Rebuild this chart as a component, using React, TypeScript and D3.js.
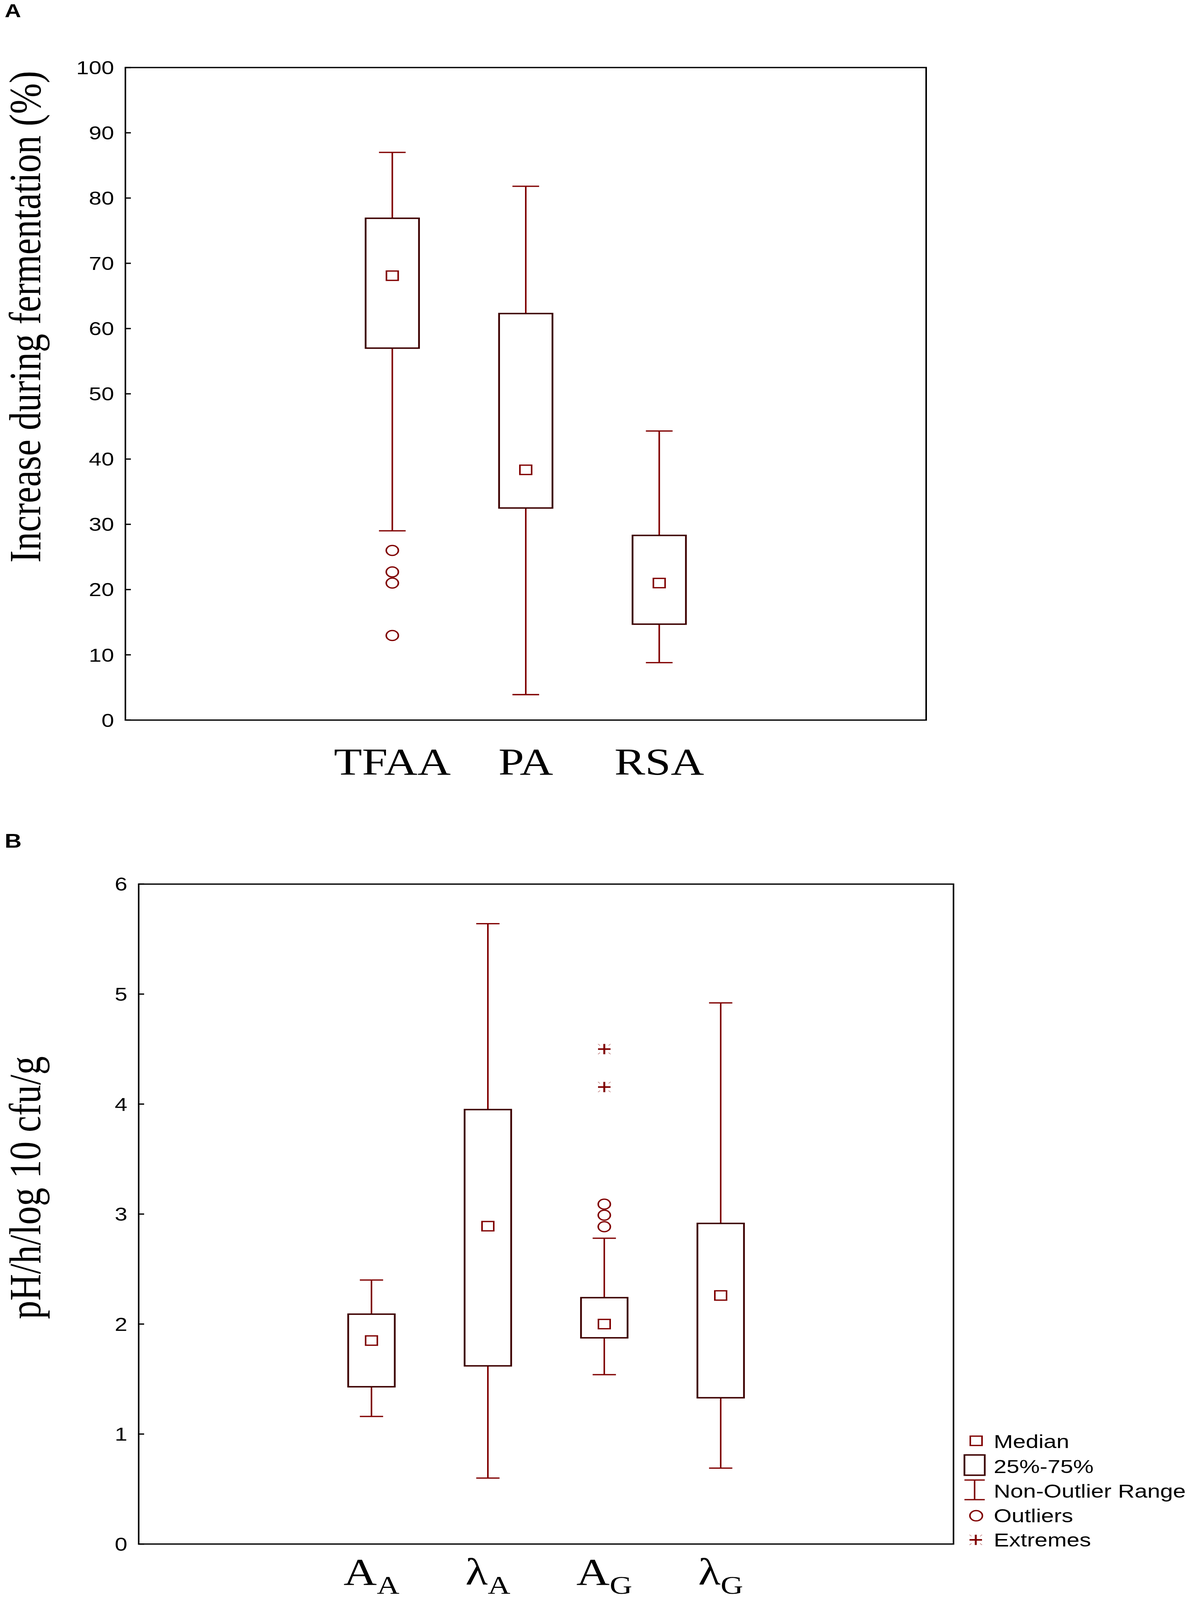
import * as d3 from "d3";

// Panel A: increase during fermentation (%)
const A_GROUPS = ["TFAA", "PA", "RSA"];
const A_WHISKER_HIGH = [87.0, 81.8, 44.3];
const A_Q3 = [76.9, 62.3, 28.3];
const A_MEDIAN = [68.1, 38.35, 21.0];
const A_Q1 = [57.0, 32.5, 14.7];
const A_WHISKER_LOW = [29.0, 3.9, 8.8];
const A_OUTLIERS = [[26.0, 22.7, 21.0, 12.96], [], []];
const A_EXTREMES: number[][] = [[], [], []];
const A_TICKS = [0, 10, 20, 30, 40, 50, 60, 70, 80, 90, 100];

// Panel B: kinetic parameters
const B_GROUPS = ["AA", "lA", "AG", "lG"];
const B_LABEL_BASE = ["A", "λ", "A", "λ"];
const B_LABEL_SUB = ["A", "A", "G", "G"];
const B_WHISKER_HIGH = [2.4, 5.64, 2.78, 4.92];
const B_Q3 = [2.09, 3.95, 2.24, 2.915];
const B_MEDIAN = [1.85, 2.89, 2.0, 2.26];
const B_Q1 = [1.43, 1.62, 1.875, 1.33];
const B_WHISKER_LOW = [1.16, 0.6, 1.54, 0.69];
const B_OUTLIERS = [[], [], [3.09, 2.99, 2.885], []];
const B_EXTREMES = [[], [], [4.5, 4.155], []];
const B_TICKS = [0, 1, 2, 3, 4, 5, 6];

const LEGEND_LABELS = ["Median", "25%-75%", "Non-Outlier Range", "Outliers", "Extremes"];

const RED = "#800000";
const DARK = "#3d0000";
const SANS = "'Liberation Sans', Arial, sans-serif";
const SERIF = "'Liberation Serif', 'Times New Roman', serif";

const W = 3049;
const H = 4975;

type Frame = { left: number; right: number; top: number; bottom: number };

function Plus({ x, y }: { x: number; y: number }) {
  const d = 16;
  return (
    <g>
      <line x1={x - d} x2={x + d} y1={y} y2={y} stroke={RED} strokeWidth={5} />
      <line x1={x} x2={x} y1={y - d} y2={y + d} stroke={RED} strokeWidth={5} />
      {[
        [-1, -1],
        [1, -1],
        [-1, 1],
        [1, 1],
      ].map(([sx, sy], i) => (
        <line
          key={i}
          x1={x + sx * 11}
          y1={y + sy * 11}
          x2={x + sx * 16}
          y2={y + sy * 16}
          stroke={RED}
          strokeWidth={1.2}
          opacity={0.7}
        />
      ))}
    </g>
  );
}

function MedianMark({ x, y }: { x: number; y: number }) {
  return <rect x={x - 15} y={y - 14.5} width={30} height={29} fill="white" stroke={RED} strokeWidth={4} />;
}

function BoxPanel(props: {
  frame: Frame;
  groups: string[];
  ticks: number[];
  high: number[];
  q3: number[];
  median: number[];
  q1: number[];
  low: number[];
  outliers: number[][];
  extremes: number[][];
}) {
  const { frame, groups, ticks } = props;
  const x = d3.scalePoint<string>().domain(groups).range([frame.left, frame.right]).padding(2);
  const y = d3
    .scaleLinear()
    .domain([ticks[0], ticks[ticks.length - 1]])
    .range([frame.bottom, frame.top]);
  const step = x.step();
  const boxHalf = step * 0.2;
  const capHalf = step * 0.1;

  return (
    <g>
      {ticks.map((t) => (
        <g key={t}>
          <line x1={frame.left} x2={frame.left + 14} y1={y(t)} y2={y(t)} stroke="black" strokeWidth={4} />
          <text
            x={frame.left - 29}
            y={y(t)}
            dy="0.36em"
            textAnchor="end"
            fontFamily={SANS}
            fontSize={58}
          >
            {t}
          </text>
        </g>
      ))}
      {groups.map((g, i) => {
        const cx = x(g) ?? 0;
        return (
          <g key={g}>
            <line x1={cx} x2={cx} y1={y(props.high[i])} y2={y(props.q3[i])} stroke={RED} strokeWidth={4} />
            <line x1={cx} x2={cx} y1={y(props.q1[i])} y2={y(props.low[i])} stroke={RED} strokeWidth={4} />
            <line
              x1={cx - capHalf}
              x2={cx + capHalf}
              y1={y(props.high[i])}
              y2={y(props.high[i])}
              stroke={RED}
              strokeWidth={4}
            />
            <line
              x1={cx - capHalf}
              x2={cx + capHalf}
              y1={y(props.low[i])}
              y2={y(props.low[i])}
              stroke={RED}
              strokeWidth={4}
            />
            <rect
              x={cx - boxHalf}
              y={y(props.q3[i])}
              width={boxHalf * 2}
              height={y(props.q1[i]) - y(props.q3[i])}
              fill="white"
              stroke={DARK}
              strokeWidth={4.5}
            />
            <MedianMark x={cx} y={y(props.median[i])} />
            {props.outliers[i].map((v, j) => (
              <circle key={j} cx={cx} cy={y(v)} r={15.5} fill="none" stroke={RED} strokeWidth={4} />
            ))}
            {props.extremes[i].map((v, j) => (
              <Plus key={j} x={cx} y={y(v)} />
            ))}
          </g>
        );
      })}
      <rect
        x={frame.left}
        y={frame.top}
        width={frame.right - frame.left}
        height={frame.bottom - frame.top}
        fill="none"
        stroke="black"
        strokeWidth={4}
      />
    </g>
  );
}

export default function App() {
  const frameA: Frame = { left: 321, right: 2371, top: 210, bottom: 2239 };
  const frameB: Frame = { left: 355, right: 2441, top: 2749, bottom: 4801 };
  const xA = d3.scalePoint<string>().domain(A_GROUPS).range([frameA.left, frameA.right]).padding(2);
  const xB = d3.scalePoint<string>().domain(B_GROUPS).range([frameB.left, frameB.right]).padding(2);

  const legendX = 2495;
  const legendTextX = 2544;
  const legendBase = [4503, 4580, 4657, 4733, 4808];

  return (
    <svg
      viewBox={`0 0 ${W} ${H}`}
      preserveAspectRatio="none"
      style={{
        position: "absolute",
        left: 0,
        top: 0,
        width: "100vw",
        height: "100vh",
        display: "block",
        background: "white",
      }}
    >
      <rect width={W} height={H} fill="white" />

      {/* Panel A */}
      <text x={12} y={54} fontFamily={SANS} fontWeight="bold" fontSize={58}>
        A
      </text>
      <text
        transform="translate(103,985) rotate(-90)"
        textAnchor="middle"
        fontFamily={SERIF}
        fontSize={115}
      >
        Increase during fermentation (%)
      </text>
      <BoxPanel
        frame={frameA}
        groups={A_GROUPS}
        ticks={A_TICKS}
        high={A_WHISKER_HIGH}
        q3={A_Q3}
        median={A_MEDIAN}
        q1={A_Q1}
        low={A_WHISKER_LOW}
        outliers={A_OUTLIERS}
        extremes={A_EXTREMES}
      />
      {A_GROUPS.map((g) => (
        <text key={g} x={xA(g)} y={2408} textAnchor="middle" fontFamily={SERIF} fontSize={118}>
          {g}
        </text>
      ))}

      {/* Panel B */}
      <text x={12} y={2636} fontFamily={SANS} fontWeight="bold" fontSize={60}>
        B
      </text>
      <text
        transform="translate(103,3693) rotate(-90)"
        textAnchor="middle"
        fontFamily={SERIF}
        fontSize={115}
      >
        pH/h/log 10 cfu/g
      </text>
      <BoxPanel
        frame={frameB}
        groups={B_GROUPS}
        ticks={B_TICKS}
        high={B_WHISKER_HIGH}
        q3={B_Q3}
        median={B_MEDIAN}
        q1={B_Q1}
        low={B_WHISKER_LOW}
        outliers={B_OUTLIERS}
        extremes={B_EXTREMES}
      />
      {B_GROUPS.map((g, i) => (
        <text key={g} x={xB(g)} y={4928} textAnchor="middle" fontFamily={SERIF} fontSize={118}>
          <tspan>{B_LABEL_BASE[i]}</tspan>
          <tspan dy={27} fontSize={80}>
            {B_LABEL_SUB[i]}
          </tspan>
        </text>
      ))}

      {/* Legend */}
      <MedianMark x={legendX + 4} y={4480} />
      <rect x={2469} y={4524} width={52} height={63} fill="white" stroke={DARK} strokeWidth={4.5} />
      <line x1={2469} x2={2521} y1={4602} y2={4602} stroke={RED} strokeWidth={4} />
      <line x1={2469} x2={2521} y1={4663} y2={4663} stroke={RED} strokeWidth={4} />
      <line x1={legendX} x2={legendX} y1={4602} y2={4663} stroke={RED} strokeWidth={4} />
      <circle cx={legendX + 4} cy={4713} r={16} fill="none" stroke={RED} strokeWidth={4} />
      <Plus x={legendX + 3} y={4788} />
      {LEGEND_LABELS.map((label, i) => (
        <text key={label} x={legendTextX} y={legendBase[i]} fontFamily={SANS} fontSize={59}>
          {label}
        </text>
      ))}
    </svg>
  );
}
